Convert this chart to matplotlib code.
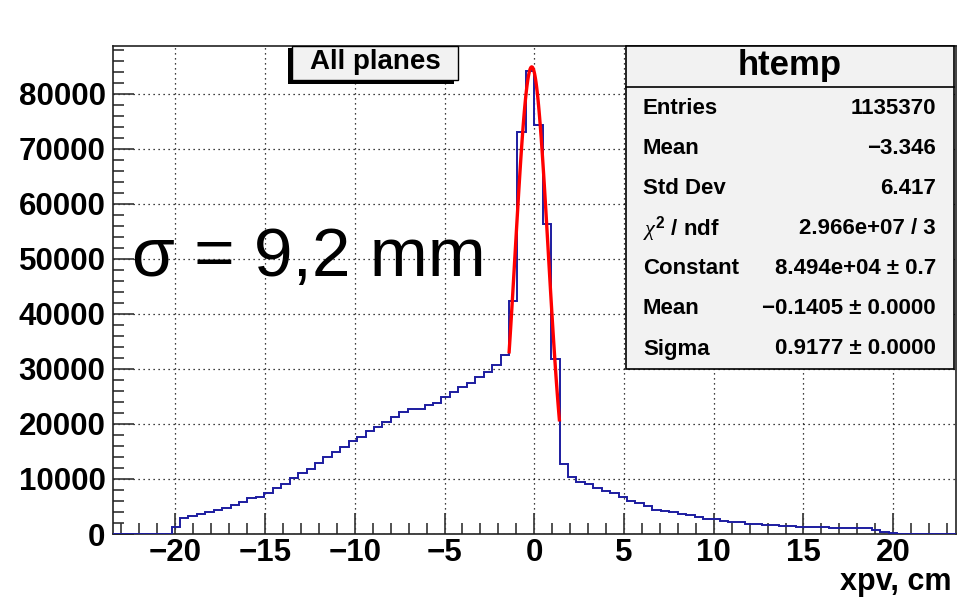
import numpy as np
import matplotlib
matplotlib.use("Agg")
import matplotlib.pyplot as plt
from matplotlib.patches import Rectangle
from matplotlib.ticker import MultipleLocator

plt.rcParams['font.family'] = ['Liberation Sans', 'DejaVu Sans']
plt.rcParams['mathtext.fontset'] = 'custom'
plt.rcParams['mathtext.it'] = 'Liberation Serif:italic'
plt.rcParams['mathtext.rm'] = 'Liberation Sans:bold'

# htemp: 100 bins over [-23.5, 23.5]
x_lo, x_hi, n_bins = -23.5, 23.5, 100
first_bin = 7
counts = [
    1300, 2850, 3330, 3640, 3940, 4360, 4790, 5270, 5880, 6490,          # 7-16
    6790, 7520, 8300, 9030, 10100, 11000, 11900, 12850, 13950, 14970,    # 17-26
    15760, 16900, 17700, 18800, 19500, 20400, 21300, 22240, 22670, 22700,  # 27-36
    23450, 23760, 24850, 25880, 26670, 27500, 28500, 29400, 30700, 32550,  # 37-46
    42300, 73000, 84200, 74400, 56300, 31800, 12700, 10300, 9500, 9000,  # 47-56
    8400, 7900, 7400, 6800, 6050, 5600, 5000, 4400, 4200, 3950,          # 57-66
    3700, 3400, 3150, 2700, 2700, 2350, 2100, 2100, 1900, 1800,          # 67-76
    1700, 1650, 1500, 1450, 1350, 1350, 1300, 1300, 1050, 1050,          # 77-86
    1050, 1050, 1050, 750, 450, 250,                                     # 87-92
]

# gaussian fit parameters
fit_const, fit_mean, fit_sigma = 8.494e4, -0.1405, 0.9177
fit_range = (-1.4, 1.4)

stats_rows = [
    ("Entries", "1135370"),
    ("Mean", "\u22123.346"),
    ("Std Dev", "6.417"),
    (r"$\chi^{2}$ / ndf", "2.966e+07 / 3"),
    ("Constant", "8.494e+04 \u00b1 0.7"),
    ("Mean", "\u22120.1405 \u00b1 0.0000"),
    ("Sigma", "0.9177 \u00b1 0.0000"),
]

W, H = 958, 602
fig = plt.figure(figsize=(W / 100, H / 100), dpi=100)


def fx(px):
    return px / W


def fy(py):
    return 1 - py / H


ax = fig.add_axes([fx(112.5), fy(534), fx(956) - fx(112.5), fy(46) - fy(534)])

edges = np.linspace(x_lo, x_hi, n_bins + 1)
content = np.zeros(n_bins)
content[first_bin:first_bin + len(counts)] = counts
ax.stairs(content, edges, color='#1c1ca0', linewidth=1.4, zorder=3)

xf = np.linspace(fit_range[0], fit_range[1], 100)
yf = fit_const * np.exp(-0.5 * ((xf - fit_mean) / fit_sigma) ** 2)
ax.plot(xf, yf, color='#ff0000', linewidth=2.4, zorder=4)

ax.set_xlim(x_lo, x_hi)
ax.set_ylim(0, 88727)
ax.xaxis.set_major_locator(MultipleLocator(5))
ax.xaxis.set_minor_locator(MultipleLocator(1))
ax.yaxis.set_major_locator(MultipleLocator(10000))
ax.yaxis.set_minor_locator(MultipleLocator(2000))
ax.grid(True, which='major', color='black', linestyle=(0, (1, 3)), linewidth=0.9)
ax.tick_params(which='both', direction='in', top=False, right=False,
               color='#333333', width=1.2)
ax.tick_params(which='major', length=15, labelsize=22.5)
ax.tick_params(axis='x', which='major', pad=3)
ax.tick_params(axis='y', which='major', pad=5)
ax.tick_params(which='minor', length=8)
for lab in ax.get_xticklabels() + ax.get_yticklabels():
    lab.set_fontweight('bold')
for sp in ax.spines.values():
    sp.set_linewidth(1.2)
    sp.set_color('#222222')

fig.text(fx(952), fy(590), "xpv, cm", ha='right', va='baseline',
         fontsize=22, fontweight='bold')

fig.text(fx(132), fy(276), "\u03c3 = 9,2 mm", ha='left', va='baseline',
         fontsize=50)

# legend box with shadow
fig.add_artist(Rectangle((fx(288), fy(84)), fx(166), fy(48) - fy(84),
                         transform=fig.transFigure, facecolor='black',
                         edgecolor='none', zorder=5))
fig.add_artist(Rectangle((fx(292), fy(80)), fx(166), fy(46) - fy(80),
                         transform=fig.transFigure, facecolor='#f2f2f2',
                         edgecolor='black', linewidth=1.0, zorder=6))
fig.text(fx(375), fy(62), "All planes", ha='center', va='center',
         fontsize=20, fontweight='bold', zorder=7)

# stats box
fig.add_artist(Rectangle((fx(626), fy(369)), fx(954) - fx(626), fy(46) - fy(369),
                         transform=fig.transFigure, facecolor='#f2f2f2',
                         edgecolor='black', linewidth=1.2, zorder=5))
fig.add_artist(plt.Line2D([fx(626), fx(954)], [fy(87), fy(87)],
                          transform=fig.transFigure, color='black',
                          linewidth=1.2, zorder=6))
fig.text(fx(790), fy(66), "htemp", ha='center', va='center',
         fontsize=25, fontweight='bold', zorder=7)
row_y = [108, 149, 188, 229, 269, 309, 349]
for (name, val), ry in zip(stats_rows, row_y):
    fig.text(fx(643), fy(ry), name, ha='left', va='center',
             fontsize=16, fontweight='bold', zorder=7)
    fig.text(fx(936), fy(ry), val, ha='right', va='center',
             fontsize=16, fontweight='bold', zorder=7)

fig.savefig("out.png", dpi=100)
